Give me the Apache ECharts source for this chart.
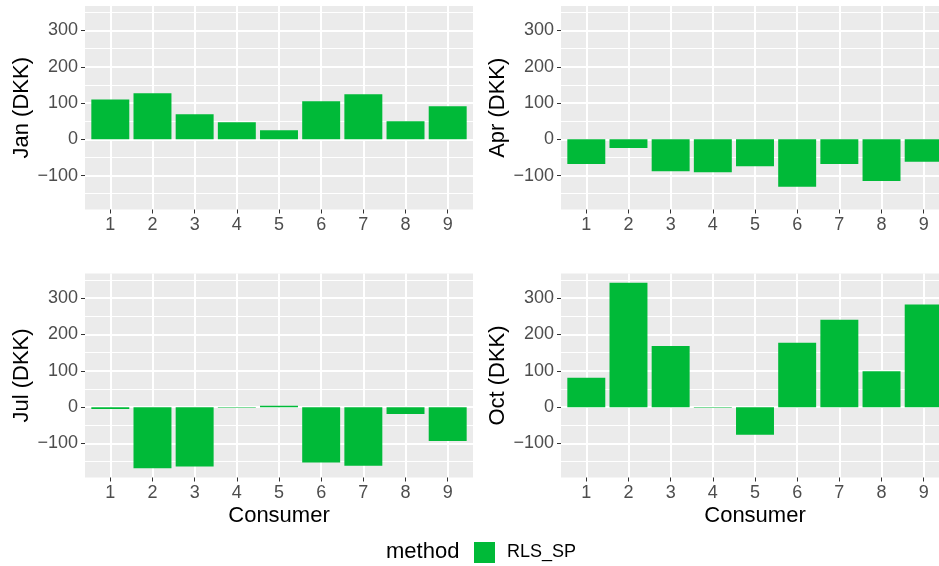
<!DOCTYPE html>
<html>
<head>
<meta charset="utf-8">
<script src="https://cdn.jsdelivr.net/npm/echarts@6/dist/echarts.min.js"></script>
<style>
  html, body { margin: 0; padding: 0; background: #ffffff; }
  #chart { width: 939px; height: 566px; }
</style>
</head>
<body>
<div id="chart"></div>
<script>
// Savings per consumer (DKK) for four months, method RLS_SP
const consumers = [1, 2, 3, 4, 5, 6, 7, 8, 9];
const monthTitles = ['Jan (DKK)', 'Apr (DKK)', 'Jul (DKK)', 'Oct (DKK)'];
const janValues = [110, 127, 69, 47, 25, 105, 124, 50, 91];
const aprValues = [-68, -24, -88, -91, -74, -131, -68, -115, -62];
const julValues = [-5, -168, -163, -2, 4, -152, -161, -19, -93];
const octValues = [81, 342, 168, -2, -76, 177, 240, 99, 282];
const yMajorTicks = [-100, 0, 100, 200, 300];
const yMinorBreaks = [-150, -50, 50, 150, 250, 350];
const methodName = 'RLS_SP';
const legendTitle = 'method';
const xTitle = 'Consumer';

const monthValues = [janValues, aprValues, julValues, octValues];

const FONT = '"Liberation Sans", Arial, Helvetica, sans-serif';
const GREEN = '#00BA38';
const PANEL_BG = '#EBEBEB';

// shared y range with 5% padding on each side
const allVals = monthValues.flat();
const lo = Math.min(...allVals), hi = Math.max(...allVals);
const pad = 0.05 * (hi - lo);
const yMin = lo - pad, yMax = hi + pad;

// discrete x scale padded by 0.6 category on each side
const xMin = consumers[0] - 0.6;
const xMax = consumers[consumers.length - 1] + 0.6;

// right-hand panels run slightly past the canvas edge
const panelBoxes = [
  { left: 85,  top: 6,     width: 388, height: 203.5 },
  { left: 561, top: 6,     width: 388, height: 203.5 },
  { left: 85,  top: 273.5, width: 388, height: 204 },
  { left: 561, top: 273.5, width: 388, height: 204 }
];

const grids = [], xAxes = [], yAxes = [], series = [];

panelBoxes.forEach((box, i) => {
  grids.push(Object.assign({
    show: true, backgroundColor: PANEL_BG, borderWidth: 0,
    containLabel: false, outerBoundsMode: 'none'
  }, box));
  const bottomRow = i >= 2;
  xAxes.push({
    type: 'value', gridIndex: i, min: xMin, max: xMax,
    axisLine: { show: false, onZero: false },
    axisTick: { show: true, customValues: consumers, length: 4,
                lineStyle: { color: '#333333', width: 1 } },
    axisLabel: { show: true, customValues: consumers, margin: 7,
                 color: '#4D4D4D', fontSize: 18, fontFamily: FONT },
    splitLine: { show: true, lineStyle: { color: '#FFFFFF', width: 2 } },
    name: bottomRow ? xTitle : '',
    nameLocation: 'middle', nameGap: 27,
    nameTextStyle: { color: '#000000', fontSize: 22, fontFamily: FONT }
  });
  // major y axis: labels, ticks and major grid lines
  yAxes.push({
    type: 'value', gridIndex: i, min: yMin, max: yMax, position: 'left',
    axisLine: { show: false, onZero: false },
    axisTick: { show: true, customValues: yMajorTicks, length: 4,
                lineStyle: { color: '#333333', width: 1 } },
    axisLabel: { show: true, customValues: yMajorTicks, margin: 7,
                 color: '#4D4D4D', fontSize: 18, fontFamily: FONT,
                 formatter: v => (v < 0 ? '\u2212' + Math.abs(v) : String(v)) },
    splitLine: { show: true, lineStyle: { color: '#FFFFFF', width: 2 } },
    name: monthTitles[i], nameLocation: 'middle', nameGap: 52, nameRotate: 90,
    nameTextStyle: { color: '#000000', fontSize: 22, fontFamily: FONT }
  });
  // minor y grid lines
  yAxes.push({
    type: 'value', gridIndex: i, min: yMin, max: yMax, position: 'left',
    axisLine: { show: false, onZero: false },
    axisTick: { show: false, customValues: yMinorBreaks },
    axisLabel: { show: false, customValues: yMinorBreaks },
    splitLine: { show: true, lineStyle: { color: '#FFFFFF', width: 1 } }
  });
  series.push({
    type: 'bar', name: methodName,
    xAxisIndex: i, yAxisIndex: i * 2,
    barWidth: '90%',
    itemStyle: { color: GREEN },
    data: consumers.map((c, k) => [c, monthValues[i][k]])
  });
});

const chart = echarts.init(document.getElementById('chart'), null, { renderer: 'canvas' });
chart.setOption({
  animation: false,
  backgroundColor: '#FFFFFF',
  grid: grids,
  xAxis: xAxes,
  yAxis: yAxes,
  series: series,
  legend: {
    data: [methodName],
    left: 474, top: 542, padding: 0,
    icon: 'rect', itemWidth: 21, itemHeight: 21,
    textStyle: { color: '#000000', fontSize: 18, fontFamily: FONT, padding: [0, 0, 0, 7] },
    selectedMode: false
  },
  graphic: [{
    type: 'text', left: 386, top: 541,
    style: { text: legendTitle, fill: '#000000', font: '22px ' + FONT }
  }]
});
</script>
</body>
</html>
